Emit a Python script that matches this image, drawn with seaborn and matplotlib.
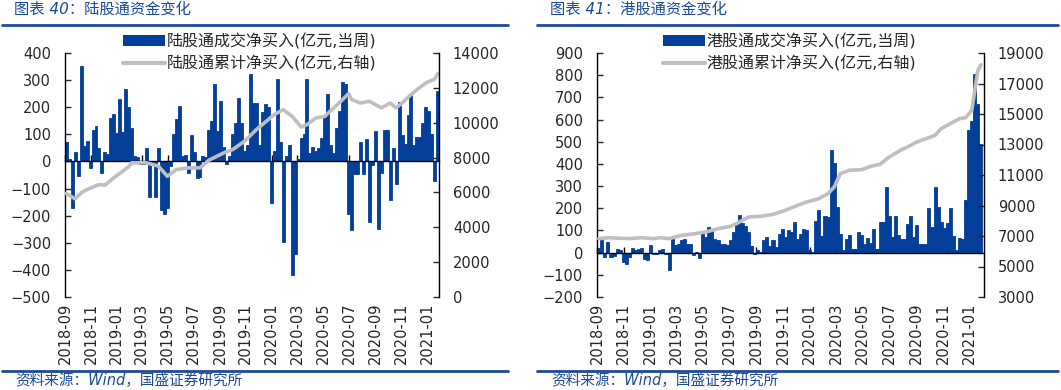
import matplotlib
matplotlib.use('Agg')
import matplotlib.pyplot as plt
import matplotlib.dates as mdates
from matplotlib.patches import Patch
from matplotlib.lines import Line2D
import seaborn as sns
import pandas as pd
import numpy as np

# weekly net buying, northbound (陆股通), 亿元
sh_flow = [70, 10, -172, 33, -53, 352, 58, 76, -25, 116,
           131, 51, -44, 33, 27, 162, 174, 104, 232, 110,
           268, 202, 125, 21, 18, -10, -10, 50, -132, -10,
           -132, 48, -178, -194, -170, -15, 100, 158, 205, 20,
           23, -42, 98, 33, -62, -58, 20, 15, 116, 150,
           287, 113, 223, 52, -10, 20, 103, 143, 235, 143,
           40, 60, 324, 214, 217, 60, 183, 213, 201, -155,
           40, 305, 70, -298, 20, 60, -420, -340, 10, 88,
           100, 305, 30, 55, 40, 48, 85, 162, 248, 60,
           30, 125, 186, 293, 287, -194, -252, -47, -47, 73,
           -47, 82, -224, -13, 113, -249, -43, 116, 116, -141,
           50, -85, 219, 98, 64, 170, 244, 60, 92, 92,
           143, 199, 186, 103, -71, 260]
# cumulative (right axis), read at these week numbers
sh_cum_week = [0, 3, 5, 7, 11, 13, 16, 21, 22, 27, 31, 34, 37, 41, 45, 48, 53, 56, 60, 64,
               68, 70, 73, 76, 79, 81, 84, 87, 90, 93, 95, 96, 99, 102, 104, 106, 109, 111,
               113, 116, 118, 121, 124, 125]
sh_cum = [5940, 5630, 5980, 6170, 6450, 6420, 6840, 7470, 7700, 7700, 7510, 6930, 7310, 7410,
          7410, 7850, 8270, 8460, 8940, 9610, 10180, 10470, 10750, 10370, 9760, 9890, 10270,
          10370, 10850, 11330, 11670, 11330, 11130, 11230, 11040, 10850, 11130, 10850, 11130,
          11610, 11900, 12280, 12510, 12810]

# weekly net buying, southbound (港股通), 亿元
hk_flow = [22, 55, -20, 48, -20, -17, 15, 10, -42, -50,
           -20, 22, 10, 18, 22, -27, -35, 33, -5, -8,
           10, 18, -5, -80, 70, 33, 40, 55, 63, 40,
           40, -12, 3, -23, 93, 70, 115, 100, 63, 58,
           40, 37, 33, 58, 93, 126, 168, 133, 118, 93,
           30, -8, 10, 5, 55, 70, 30, 55, 25, 85,
           108, 70, 104, 93, 138, 63, 85, 108, 100, 10,
           5, 141, 190, 73, 163, 160, 463, 403, 205, 85,
           10, 60, 80, 15, 15, 93, 81, 40, 68, 45,
           106, 18, 138, 140, 295, 163, 70, 164, 81, 60,
           63, 130, 164, 70, 126, 40, 40, 40, 200, 115,
           295, 206, 138, 110, 133, 200, 73, 10, 68, 60,
           238, 553, 595, 805, 670, 490]
hk_cum_week = [0, 3, 10, 14, 18, 20, 23, 27, 30, 35, 39, 43, 45, 49, 53, 57, 61, 65, 68, 72,
               75, 77, 79, 82, 86, 89, 92, 95, 99, 101, 104, 107, 110, 112, 115, 118, 120,
               122, 123, 124, 125]
hk_cum = [6825, 6890, 6825, 6890, 6825, 6890, 6825, 7040, 7110, 7260, 7480, 7630, 7810, 8250,
          8290, 8420, 8680, 9010, 9230, 9450, 9780, 10210, 11090, 11310, 11350, 11570, 11700,
          12180, 12660, 12840, 13160, 13380, 13600, 14040, 14370, 14690, 14760, 15240, 16550,
          17860, 18230]

sh_weeks = pd.date_range('2018-09-04', periods=len(sh_flow), freq='7D')
hk_weeks = pd.date_range('2018-09-05', periods=len(hk_flow), freq='7D')

BLUE = '#033F98'
GREY = '#BFBFBF'
DARKBLUE = '#1C4A9B'

sns.set_theme(style='white')
plt.rcParams['font.family'] = ['DejaVu Sans', 'Noto Sans CJK SC']
plt.rcParams['axes.edgecolor'] = 'black'
plt.rcParams['axes.linewidth'] = 1.0

fig = plt.figure(figsize=(10.61, 3.9), dpi=100)
W, H = 1061, 390


def panel(rect, weeks, flow, cum_week, cum, ylim, ystep, y2lim, y2step, xlim, names, leg_xy):
    ax = fig.add_axes(rect)
    x = mdates.date2num(weeks)
    sns.barplot(x=x, y=flow, native_scale=True, color=BLUE, saturation=1,
                width=1.0, errorbar=None, linewidth=0.6, edgecolor=BLUE, ax=ax)
    ax2 = ax.twinx()
    sns.lineplot(x=x[cum_week], y=cum, ax=ax2, color=GREY, lw=2.6)

    ax.set_xlim(mdates.datestr2num(xlim[0]), mdates.datestr2num(xlim[1]))
    ax.set_ylim(*ylim)
    ax.set_yticks(np.arange(ylim[0], ylim[1] + 1, ystep))
    ax2.set_ylim(*y2lim)
    ax2.set_yticks(np.arange(y2lim[0], y2lim[1] + 1, y2step))
    ax.xaxis.set_major_locator(mdates.MonthLocator(bymonth=(1, 3, 5, 7, 9, 11)))
    ax.xaxis.set_major_formatter(mdates.DateFormatter('%Y-%m'))
    for a in (ax, ax2):
        a.set_xlabel('')
        a.set_ylabel('')
        a.grid(False)

    ax.spines['top'].set_position(('data', 0))
    ax.spines['bottom'].set_visible(False)
    ax.spines['right'].set_visible(False)
    for s in ('top', 'bottom', 'left'):
        ax2.spines[s].set_visible(False)

    ax.tick_params(axis='x', bottom=False, top=True, labelbottom=True, labeltop=False,
                   direction='out', length=4, width=1, color='black',
                   labelsize=10.5, labelrotation=90, pad=0)
    ax.tick_params(axis='y', left=True, direction='in', length=4, width=1,
                   labelsize=10.5, pad=10)
    ax2.tick_params(axis='y', right=True, direction='in', length=4, width=1,
                    labelsize=10.5, pad=10)

    handles = [Patch(facecolor=BLUE, edgecolor='none'), Line2D([], [], color=GREY, lw=3)]
    fig.legend(handles, names, loc='upper left',
               bbox_to_anchor=(leg_xy[0] / W, 1 - leg_xy[1] / H),
               frameon=False, fontsize=11.5, handlelength=2.6, handleheight=0.75,
               handletextpad=0.15, labelspacing=0.4, borderpad=0, borderaxespad=0)
    return ax


panel([65 / W, 1 - 297 / H, 374 / W, 244 / H], sh_weeks, sh_flow, sh_cum_week, sh_cum,
      (-500, 400), 100, (0, 14000), 2000, ('2018-09-01', '2021-01-29'),
      ['陆股通成交净买入(亿元,当周)', '陆股通累计净买入(亿元,右轴)'], (123, 33))
panel([597 / W, 1 - 297 / H, 387 / W, 244 / H], hk_weeks, hk_flow, hk_cum_week, hk_cum,
      (-200, 900), 100, (3000, 19000), 2000, ('2018-09-01', '2021-02-03'),
      ['港股通成交净买入(亿元,当周)', '港股通累计净买入(亿元,右轴)'], (663, 33))

# headers, rules and source notes
for x0, x1, title, tx in [(2, 508, '图表 40：陆股通资金变化', 14),
                          (537, 1058, '图表 41：港股通资金变化', 550)]:
    fig.text(tx / W, 1 - 9 / H, title, ha='left', va='center', color=DARKBLUE,
             fontsize=11, style='italic')
    fig.add_artist(Line2D([x0 / W, x1 / W], [1 - 25 / H] * 2, transform=fig.transFigure,
                          color=DARKBLUE, lw=2))
    fig.add_artist(Line2D([x0 / W, x1 / W], [1 - 370.5 / H] * 2, transform=fig.transFigure,
                          color=DARKBLUE, lw=2))
    fig.text((tx + 1) / W, 1 - 381 / H, '资料来源：Wind，国盛证券研究所', ha='left',
             va='center', color=DARKBLUE, fontsize=10.5, style='italic')

fig.savefig('out.png', dpi=100)
